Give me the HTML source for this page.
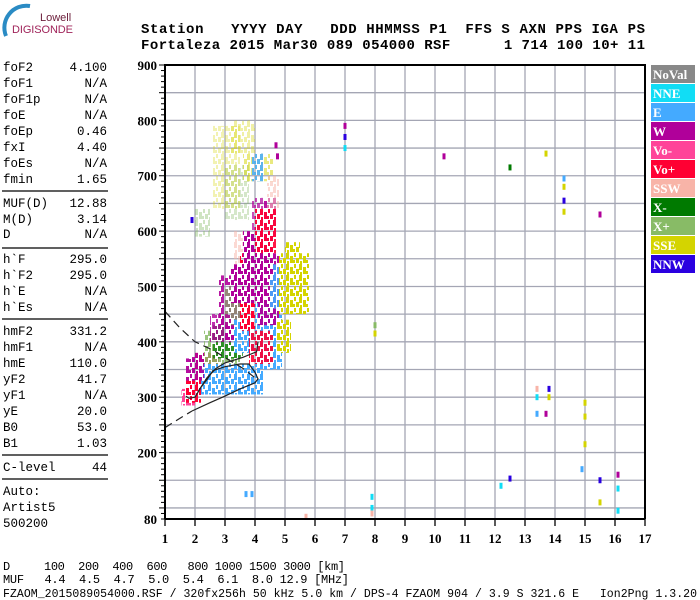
<!DOCTYPE html>
<html><head><meta charset="utf-8"><style>
html,body{margin:0;padding:0;background:#fff;}
svg{display:block;}
.m{font-family:"Liberation Mono",monospace;fill:#000;}
.t{font-family:"Liberation Serif",serif;font-weight:bold;font-size:13px;fill:#000;}
</style></head><body>
<svg id="chart" width="700" height="600" viewBox="0 0 700 600">
<defs>
<pattern id="spk" width="13" height="11" patternUnits="userSpaceOnUse">
<rect x="0" y="0" width="3" height="6" fill="#fff"/><rect x="4" y="3" width="3" height="7" fill="#fff"/><rect x="8" y="0" width="2" height="4" fill="#fff"/><rect x="10" y="5" width="3" height="5" fill="#fff"/><rect x="1" y="8" width="2" height="3" fill="#fff"/><rect x="7" y="7" width="2" height="3" fill="#fff"/>
</pattern>
<mask id="spkmask" maskUnits="userSpaceOnUse" x="0" y="0" width="700" height="600"><rect width="700" height="600" fill="url(#spk)"/></mask>
</defs>
<g>
<path d="M30 6 A22 22 0 0 0 6 36" fill="none" stroke="#2a8bc4" stroke-width="4"/>
<text x="40" y="21" font-family="Liberation Sans,sans-serif" font-size="11" fill="#6b1d3a">Lowell</text>
<text x="12" y="33" font-family="Liberation Sans,sans-serif" font-size="11" fill="#a0245a" textLength="61">DIGISONDE</text>
</g>
<g>
<text class="m" x="141" y="33" font-size="14" font-weight="bold" textLength="504" xml:space="preserve">Station   YYYY DAY   DDD HHMMSS P1  FFS S AXN PPS IGA PS</text>
<text class="m" x="141" y="49" font-size="14" font-weight="bold" textLength="504" xml:space="preserve">Fortaleza 2015 Mar30 089 054000 RSF      1 714 100 10+ 11</text>
</g>
<g id="params"></g>
<g id="grid"></g>
<g id="marks" mask="url(#spkmask)"></g>
<g id="pts"></g>
<g id="profile"></g>
<g id="axes"></g>
<g id="legend"></g>
<g>
<text class="m" x="3" y="570" font-size="12" textLength="342" xml:space="preserve">D     100  200  400  600   800 1000 1500 3000 [km]</text>
<text class="m" x="3" y="583" font-size="12" textLength="346" xml:space="preserve">MUF   4.4  4.5  4.7  5.0  5.4  6.1  8.0 12.9 [MHz]</text>
<text class="m" x="3" y="597" font-size="11.5" textLength="694" xml:space="preserve">FZAOM_2015089054000.RSF / 320fx256h 50 kHz 5.0 km / DPS-4 FZAOM 904 / 3.9 S 321.6 E   Ion2Png 1.3.20</text>
</g>
</svg>
<script>
const paramLabels=["foF2","foF1","foF1p","foE","foEp","fxI","foEs","fmin","MUF(D)","M(D)","D","h`F","h`F2","h`E","h`Es","hmF2","hmF1","hmE","yF2","yF1","yE","B0","B1","C-level","Auto:","Artist5","500200"];
const paramValues=["4.100","N/A","N/A","N/A","0.46","4.40","N/A","1.65","12.88","3.14","N/A","295.0","295.0","N/A","N/A","331.2","N/A","110.0","41.7","N/A","20.0","53.0","1.03","44","","",""];
const paramY=[71,87,103,119,135,151,167,183,207,223,238,263,279,295,311,335,351,367,383,399,415,431,447,471,495,511,527];
const legendNames=["NoVal","NNE","E","W","Vo-","Vo+","SSW","X-","X+","SSE","NNW"];
const legendColors=["#888888","#11ddf5","#44aaff","#b0009a","#ff4499","#ff0033","#f8b4a8","#007a00","#88bb66","#d4d400","#2a00e0"];
const xTicks=[1,2,3,4,5,6,7,8,9,10,11,12,13,14,15,16,17];
const yTicks=[80,200,300,400,500,600,700,800,900];
// patches: freq0, freq1, height0, height1, color index, opacity
const patchF0=[3.0,2.6,2.0,3.2,3.6,3.9,3.9,4.3,4.4,3.3,1.55,1.7,2.0,2.3,2.2,2.6,2.8,3.0,3.0,3.3,3.5,4.0,4.1,4.5,4.8,4.7,5.0,3.6,4.0,3.5,1.9,3.2,3.8,2.5,1.7];
const patchF1=[3.8,3.5,2.5,4.0,4.6,4.4,4.3,4.7,4.8,4.0,2.0,2.4,2.8,3.5,4.3,3.6,3.5,4.0,3.8,4.0,4.3,4.9,4.8,5.2,5.8,5.2,5.5,4.6,4.7,4.4,2.3,4.0,4.6,3.2,2.2];
const patchH0=[620,640,590,740,690,600,690,590,640,520,285,305,320,345,305,370,430,400,430,380,420,350,430,460,450,380,540,520,560,470,330,470,360,400,290];
const patchH1=[720,790,640,800,740,660,740,660,700,600,315,370,380,420,360,430,520,480,500,440,560,480,560,540,560,440,580,600,640,540,380,540,420,450,330];
const patchC=[8,9,8,9,9,3,2,3,6,6,4,3,5,8,2,7,3,3,8,2,5,2,3,2,9,9,9,3,5,3,3,3,5,3,5];
const patchOp=[0.35,0.3,0.4,0.35,0.5,0.7,0.85,0.7,0.5,0.5,1,0.95,0.95,0.85,1,0.7,0.9,1,0.7,1,1,1,0.95,0.9,1,1,1,1,0.9,1,0.9,1,0.9,0.8,1];
// isolated points: freq, height, color
const ptF=[7.0,7.0,7.0,10.3,12.5,13.7,14.3,14.3,14.3,14.3,15.5,8.0,8.0,13.4,13.4,13.4,13.8,13.8,13.7,15.0,15.0,15.0,14.9,12.5,12.2,15.5,15.5,16.1,16.1,16.1,7.9,7.9,7.9,5.7,3.7,3.9,1.9,4.7,4.75];
const ptH=[790,770,750,735,715,740,695,680,655,635,630,430,415,315,300,270,315,300,270,290,265,215,170,153,140,150,110,160,135,95,120,100,90,84,125,125,620,755,735];
const ptC=[3,10,1,3,7,9,2,9,10,9,3,8,9,6,1,2,10,9,3,9,9,9,2,10,1,10,9,3,1,1,1,1,6,6,2,2,10,3,3];
const upperDash=[[1.0,455],[1.5,425],[2.0,400],[2.6,385],[3.2,365],[3.6,352],[4.0,335]];
const lowerDash=[[1.0,245],[1.5,262],[1.9,275]];
const profileSolid=[[1.9,275],[2.5,290],[3.0,302],[3.5,315],[4.0,326],[4.1,333],[4.0,345],[3.8,360],[3.5,360],[3.0,355],[2.6,348],[2.4,332],[2.2,318],[2.0,300],[1.8,298],[1.7,302]];
const profileUpper=[[2.1,310],[2.4,335],[2.7,352],[3.0,362],[3.6,372],[4.05,382],[4.1,400]];

const NS="http://www.w3.org/2000/svg";
const L=165,R=645,T=65,B=519;
const xS=f=>L+(f-1)*(R-L)/16;
const yS=h=>B-(h-80)*(B-T)/820;
function mk(tag,attrs,parent){const e=document.createElementNS(NS,tag);for(const k in attrs)e.setAttribute(k,attrs[k]);parent.appendChild(e);return e;}
const P=document.getElementById('params'),G=document.getElementById('grid'),M=document.getElementById('marks'),PT=document.getElementById('pts'),A=document.getElementById('axes'),LG=document.getElementById('legend'),PR=document.getElementById('profile');

paramLabels.forEach((lab,i)=>{
 const t=mk('text',{class:'m',x:3,y:paramY[i],'font-size':12.5},P);t.textContent=lab;
 
 
 if(paramValues[i]){const v=mk('text',{class:'m',x:107,y:paramY[i],'font-size':12.5,'text-anchor':'end'},P);v.textContent=paramValues[i];
 
 }
});
[191,248,319,455,479].forEach(y=>{const l=mk('line',{x1:2,x2:108,y1:y,y2:y,stroke:'#000','stroke-width':1.3},P);
 
 });

for(let f=2;f<=16;f++){const l=mk('line',{x1:xS(f),x2:xS(f),y1:T,y2:B,stroke:'#a4a6b4','stroke-width':1.3},G);
 
 }
for(let h=100;h<900;h+=50){const l=mk('line',{x1:L,x2:R,y1:yS(h),y2:yS(h),stroke:'#a4a6b4','stroke-width':1.3},G);
 
 }

patchF0.forEach((f0,i)=>{
 const r=mk('rect',{x:xS(f0),y:yS(patchH1[i]),width:xS(patchF1[i])-xS(f0),height:yS(patchH0[i])-yS(patchH1[i]),fill:legendColors[patchC[i]],opacity:patchOp[i]},M);
 
 
});
ptF.forEach((f,i)=>{
 const r=mk('rect',{x:xS(f)-1.5,y:yS(ptH[i])-3,width:3,height:6,fill:legendColors[ptC[i]]},PT);
 
 
});
const pts=a=>a.map(p=>xS(p[0]).toFixed(1)+','+yS(p[1]).toFixed(1)).join(' ');
let c=mk('polyline',{points:pts(upperDash),fill:'none',stroke:'#222','stroke-width':1.2,'stroke-dasharray':'8,5'},PR);


c=mk('polyline',{points:pts(lowerDash),fill:'none',stroke:'#222','stroke-width':1.2,'stroke-dasharray':'8,5'},PR);


c=mk('polyline',{points:pts(profileSolid),fill:'none',stroke:'#222','stroke-width':1.2},PR);


c=mk('polyline',{points:pts(profileUpper),fill:'none',stroke:'#222','stroke-width':1.2},PR);



let ax=mk('path',{d:`M${L} ${B}V${T}H${R}V${B}`,fill:'none',stroke:'#000','stroke-width':2},A);


ax=mk('line',{x1:L,x2:R,y1:B,y2:B,stroke:'#000','stroke-width':2},A);


for(let h=80;h<=900;h+=10){const big=h%50===0;const l=mk('line',{x1:L-(big?6:4),x2:L,y1:yS(h),y2:yS(h),stroke:'#000','stroke-width':1},A);
 
 }
yTicks.forEach(h=>{const t=mk('text',{class:'t',x:157,y:yS(h)+5,'text-anchor':'end'},A);t.textContent=h;
 
 });
xTicks.forEach(f=>{const l=mk('line',{x1:xS(f),x2:xS(f),y1:B,y2:B+7,stroke:'#000','stroke-width':1.3},A);
 
 
 const t=mk('text',{class:'t',x:xS(f),y:543,'text-anchor':'middle'},A);t.textContent=f;
 
 });

legendNames.forEach((n,i)=>{
 const y=65+i*19;
 const r=mk('rect',{x:651,y:y,width:44,height:18,fill:legendColors[i]},LG);
 
 
 const t=mk('text',{x:653,y:y+14,'font-family':'Liberation Serif,serif','font-weight':'bold','font-size':13,fill:'#fff'},LG);t.textContent=n;
 
 
});
</script>
</body></html>
